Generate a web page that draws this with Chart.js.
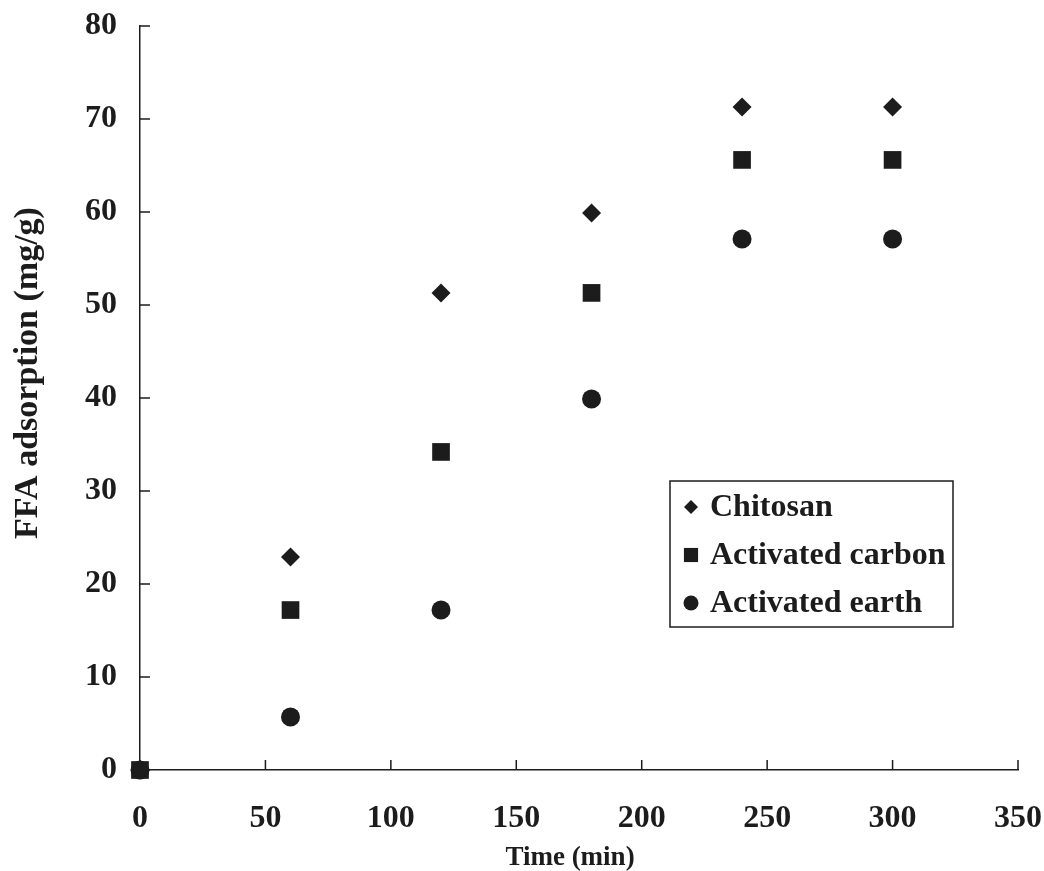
<!DOCTYPE html>
<html>
<head>
<meta charset="utf-8">
<script src="https://cdn.jsdelivr.net/npm/chart.js@4"></script>
<style>
  html, body { margin: 0; padding: 0; background: #fff; }
  #chart { display: block; }
</style>
</head>
<body>
<canvas id="chart" width="1044" height="871"></canvas>
<script>
// Data
const times = [0, 60, 120, 180, 240, 300];
const chitosan = [0, 22.9, 51.3, 59.9, 71.3, 71.3];
const activatedCarbon = [0, 17.2, 34.2, 51.3, 65.6, 65.6];
const activatedEarth = [0, 5.7, 17.2, 39.9, 57.1, 57.1];

const xTicks = [0, 50, 100, 150, 200, 250, 300, 350];
const yTicks = [0, 10, 20, 30, 40, 50, 60, 70, 80];

const ink = '#1c1c1c';
const serif = '"Liberation Serif", "Times New Roman", serif';

function pairs(ys) {
    return times.map((t, i) => ({ x: t, y: ys[i] }));
}

// tick marks pointing into the plot, like the original
const innerTicks = {
    id: 'innerTicks',
    afterDraw(chart) {
        const { ctx, chartArea, scales } = chart;
        ctx.save();
        ctx.strokeStyle = ink;
        ctx.lineWidth = 1.5;
        ctx.beginPath();
        xTicks.forEach(v => {
            const px = scales.x.getPixelForValue(v);
            ctx.moveTo(px, chartArea.bottom);
            ctx.lineTo(px, chartArea.bottom - 10);
        });
        yTicks.forEach(v => {
            const py = scales.y.getPixelForValue(v);
            ctx.moveTo(chartArea.left, py);
            ctx.lineTo(chartArea.left + 10, py);
        });
        ctx.stroke();
        ctx.restore();
    }
};

// axis titles placed where the figure has them
const axisTitles = {
    id: 'axisTitles',
    afterDraw(chart) {
        const { ctx, chartArea } = chart;
        ctx.save();
        ctx.fillStyle = ink;
        ctx.textAlign = 'center';
        ctx.textBaseline = 'middle';
        ctx.font = 'bold 27px ' + serif;
        ctx.fillText('Time (min)', chartArea.left + 430, 858);
        ctx.font = 'bold 34px ' + serif;
        ctx.translate(28, chartArea.top + 347);
        ctx.rotate(-Math.PI / 2);
        ctx.fillText('FFA adsorption (mg/g)', 0, 0);
        ctx.restore();
    }
};

// boxed legend inside the plot
const boxLegend = {
    id: 'boxLegend',
    afterDraw(chart) {
        const { ctx, chartArea } = chart;
        const left = chartArea.left + 530;
        const top = chartArea.top + 455;
        const w = 283, h = 146;
        ctx.save();
        ctx.fillStyle = '#fff';
        ctx.fillRect(left, top, w, h);
        ctx.strokeStyle = ink;
        ctx.lineWidth = 1.5;
        ctx.strokeRect(left, top, w, h);
        ctx.font = 'bold 32px ' + serif;
        ctx.textBaseline = 'middle';
        ctx.textAlign = 'left';
        chart.data.datasets.forEach((ds, i) => {
            const cy = top + 26 + i * 48;
            ctx.fillStyle = ink;
            Chart.helpers.drawPoint(ctx, {
                pointStyle: ds.pointStyle,
                radius: ds.legendRadius,
                rotation: 0,
                borderWidth: 0
            }, left + 21, cy);
            ctx.fillText(ds.label, left + 40, cy + 1);
        });
        ctx.restore();
    }
};

new Chart(document.getElementById('chart'), {
    type: 'scatter',
    data: {
        datasets: [
            {
                label: 'Chitosan',
                data: pairs(chitosan),
                pointStyle: 'rectRot',
                pointRadius: 9.5,
                legendRadius: 7,
                backgroundColor: ink,
                borderColor: ink,
                borderWidth: 0,
                clip: false,
                order: 1
            },
            {
                label: 'Activated carbon',
                data: pairs(activatedCarbon),
                pointStyle: 'rect',
                pointRadius: 12.5,
                legendRadius: 10,
                backgroundColor: ink,
                borderColor: ink,
                borderWidth: 0,
                clip: false,
                order: 0
            },
            {
                label: 'Activated earth',
                data: pairs(activatedEarth),
                pointStyle: 'circle',
                pointRadius: 9.5,
                legendRadius: 7.5,
                backgroundColor: ink,
                borderColor: ink,
                borderWidth: 0,
                clip: false,
                order: 2
            }
        ]
    },
    options: {
        responsive: false,
        animation: false,
        events: [],
        layout: { padding: { top: 26, right: 26, left: 0, bottom: 0 } },
        plugins: {
            legend: { display: false },
            tooltip: { enabled: false },
            title: { display: false }
        },
        scales: {
            x: {
                type: 'linear',
                min: 0,
                max: 350,
                afterBuildTicks: axis => { axis.ticks = xTicks.map(v => ({ value: v })); },
                afterFit: axis => {
                    axis.height = 101;
                    axis.paddingLeft = 0;
                    axis.paddingRight = 0;
                },
                grid: { display: false, drawTicks: false },
                border: { display: true, color: ink, width: 1.5 },
                ticks: {
                    color: ink,
                    padding: 30,
                    font: { family: serif, size: 32, weight: 'bold' }
                }
            },
            y: {
                type: 'linear',
                min: 0,
                max: 80,
                afterBuildTicks: axis => { axis.ticks = yTicks.map(v => ({ value: v })); },
                afterFit: axis => {
                    axis.width = 140;
                    axis.paddingTop = 0;
                    axis.paddingBottom = 0;
                },
                grid: { display: false, drawTicks: false },
                border: { display: true, color: ink, width: 1.5 },
                ticks: {
                    color: ink,
                    padding: 23,
                    font: { family: serif, size: 32, weight: 'bold' }
                }
            }
        }
    },
    plugins: [innerTicks, axisTitles, boxLegend]
});
</script>
</body>
</html>
